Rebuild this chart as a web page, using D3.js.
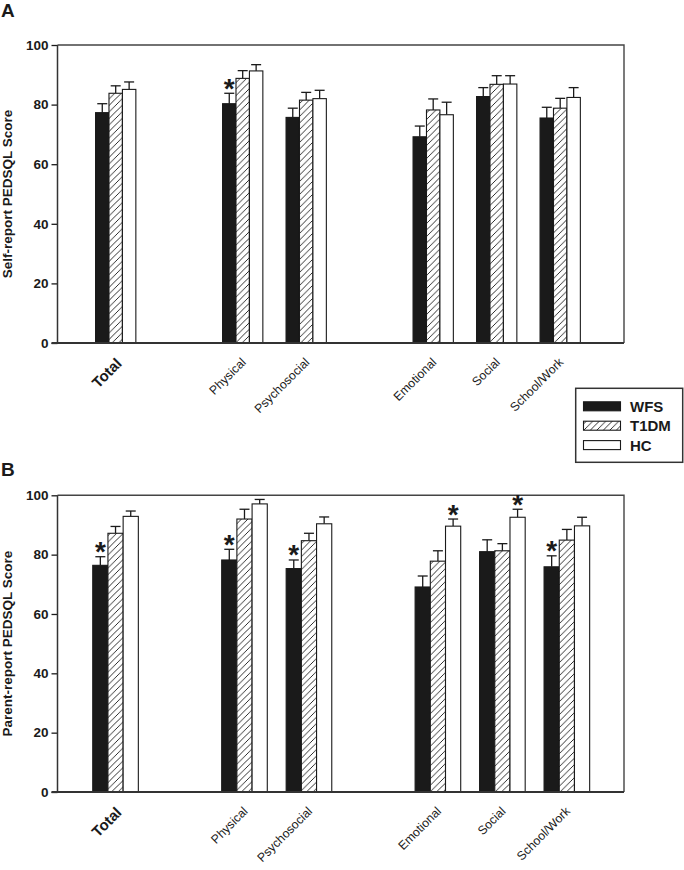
<!DOCTYPE html>
<html>
<head>
<meta charset="utf-8">
<script src="https://cdn.jsdelivr.net/npm/d3@7"></script>
<style>
  html, body { margin: 0; padding: 0; background: #fff; }
  svg { display: block; }
</style>
</head>
<body>
<svg id="chart" width="684" height="870"></svg>
<script>
// ---------------- DATA ----------------
const categories = ["Total", "Physical", "Psychosocial", "Emotional", "Social", "School/Work"];
const categoryGroups = [["Total"], ["Physical", "Psychosocial"], ["Emotional", "Social", "School/Work"]];
const seriesNames = ["WFS", "T1DM", "HC"];
const yTicks = [0, 20, 40, 60, 80, 100];

// Panel A: self-report
const selfWFS = [77.3, 80.3, 75.7, 69.2, 82.7, 75.5];
const selfT1DM = [83.8, 88.8, 81.5, 78.2, 86.8, 78.8];
const selfHC = [85.1, 91.3, 82.0, 76.6, 86.9, 82.4];
const selfWFSErr = [3.0, 3.5, 3.1, 3.6, 3.0, 3.6];
const selfT1DMErr = [2.5, 2.6, 2.6, 3.7, 2.9, 3.3];
const selfHCErr = [2.5, 2.1, 2.8, 4.2, 2.8, 3.3];
const selfStars = [["Physical", "WFS"]];

// Panel B: parent-report
const parentWFS = [76.4, 78.2, 75.3, 69.1, 81.0, 75.9];
const parentT1DM = [87.2, 92.0, 84.7, 77.8, 81.3, 84.9];
const parentHC = [92.9, 97.1, 90.4, 89.6, 92.6, 89.7];
const parentWFSErr = [2.9, 3.6, 2.9, 3.7, 4.0, 3.7];
const parentT1DMErr = [2.3, 3.3, 2.5, 3.5, 2.4, 3.6];
const parentHCErr = [1.8, 1.5, 2.3, 2.4, 2.7, 2.9];
const parentStars = [["Total", "WFS"], ["Physical", "WFS"], ["Psychosocial", "WFS"],
                     ["Emotional", "HC"], ["Social", "HC"], ["School/Work", "WFS"]];

// ---------------- DRAWING ----------------
const svg = d3.select("#chart");
const FONT = "'Liberation Sans', Arial, Helvetica, sans-serif";
const INK = "#1a1a1a";

const defs = svg.append("defs");
const pat = defs.append("pattern")
  .attr("id", "hatch").attr("patternUnits", "userSpaceOnUse")
  .attr("width", 6.5).attr("height", 6.5);
pat.append("rect").attr("width", 6.5).attr("height", 6.5).attr("fill", "#fff");
pat.append("path")
  .attr("d", "M-1,1 L1,-1 M0,6.5 L6.5,0 M5.5,7.5 L7.5,5.5")
  .attr("stroke", INK).attr("stroke-width", 0.9);

const fills = { WFS: INK, T1DM: "url(#hatch)", HC: "#fff" };

// slot domain with empty slots between the category groups
const slotDomain = [];
categoryGroups.forEach((g, i) => {
  if (i > 0) slotDomain.push("__gap" + i);
  g.forEach(c => slotDomain.push(c));
});

function drawPanel(opts) {
  const { top, bottom, left, right, xRange, groupHalf, values, errors, stars, title, letter, letterY } = opts;
  const g = svg.append("g");

  const y = d3.scaleLinear().domain([0, 100]).range([bottom, top]);
  const x = d3.scaleBand().domain(slotDomain).range(xRange).padding(0);
  const xs = d3.scaleBand().domain(seriesNames).range([-groupHalf, groupHalf]).padding(0);
  const cx = c => x(c) + x.bandwidth() / 2;

  const rows = [];
  categories.forEach((c, i) => {
    seriesNames.forEach(s => {
      rows.push({ cat: c, series: s, v: values[s][i], e: errors[s][i] });
    });
  });

  // frame (top and right)
  g.append("path")
    .attr("d", `M${left},${top} H${right} V${bottom}`)
    .attr("fill", "none").attr("stroke", "#444").attr("stroke-width", 1.4);

  // error bars (upper only)
  const eg = g.append("g");
  rows.forEach(r => {
    const bx = cx(r.cat) + xs(r.series) + xs.bandwidth() / 2;
    eg.append("line").attr("x1", bx).attr("x2", bx)
      .attr("y1", y(r.v)).attr("y2", y(r.v + r.e))
      .attr("stroke", INK).attr("stroke-width", 1.3);
    eg.append("line").attr("x1", bx - 5).attr("x2", bx + 5)
      .attr("y1", y(r.v + r.e)).attr("y2", y(r.v + r.e))
      .attr("stroke", INK).attr("stroke-width", 1.3);
  });

  // bars
  g.append("g").selectAll("rect").data(rows).join("rect")
    .attr("x", d => cx(d.cat) + xs(d.series))
    .attr("width", xs.bandwidth())
    .attr("y", d => y(d.v))
    .attr("height", d => y(0) - y(d.v))
    .attr("fill", d => fills[d.series])
    .attr("stroke", INK).attr("stroke-width", 1.1);

  // significance stars
  g.append("g").selectAll("text").data(stars).join("text")
    .attr("x", d => cx(d[0]) + xs(d[1]) + xs.bandwidth() / 2)
    .attr("y", d => {
      const i = categories.indexOf(d[0]);
      const t = values[d[1]][i] + errors[d[1]][i];
      return y(t) - 11.5 + 16;
    })
    .attr("text-anchor", "middle")
    .attr("font-family", FONT).attr("font-weight", "bold").attr("font-size", 28)
    .attr("fill", INK)
    .text("*");

  // y axis
  const ya = g.append("g").attr("transform", `translate(${left},0)`)
    .call(d3.axisLeft(y).tickValues(yTicks).tickSize(6).tickPadding(3).tickFormat(d3.format("d")));
  ya.select(".domain").remove();
  ya.selectAll(".tick line").attr("stroke", INK).attr("stroke-width", 1.3);
  ya.selectAll(".tick text")
    .attr("font-family", FONT).attr("font-weight", "bold").attr("font-size", 13.5)
    .attr("fill", INK);

  g.append("line").attr("x1", left).attr("x2", left).attr("y1", top).attr("y2", bottom)
    .attr("stroke", "#333").attr("stroke-width", 1.5);
  g.append("line").attr("x1", left - 6).attr("x2", right).attr("y1", bottom).attr("y2", bottom)
    .attr("stroke", "#333").attr("stroke-width", 2);

  // category labels
  g.append("g").selectAll("text").data(categories).join("text")
    .attr("transform", d => {
      const isTotal = d === "Total";
      const dx = isTotal ? 7 : 4;
      const dy = isTotal ? 21.5 : 20;
      return `translate(${cx(d) + dx},${bottom + dy}) rotate(-45)`;
    })
    .attr("text-anchor", "end")
    .attr("font-family", FONT)
    .attr("font-weight", d => d === "Total" ? "bold" : "normal")
    .attr("font-size", d => d === "Total" ? 15 : 12.3)
    .attr("fill", INK)
    .text(d => d);

  // y title
  g.append("text")
    .attr("transform", `translate(12,${(top + bottom) / 2}) rotate(-90)`)
    .attr("text-anchor", "middle")
    .attr("font-family", FONT).attr("font-weight", "bold").attr("font-size", 13.5)
    .attr("fill", INK)
    .text(title);

  // panel letter
  g.append("text").attr("x", 1).attr("y", letterY)
    .attr("font-family", FONT).attr("font-weight", "bold").attr("font-size", 19)
    .attr("fill", INK).text(letter);
}

drawPanel({
  top: 45, bottom: 343, left: 57.5, right: 624,
  xRange: [83.95, 591.95], groupHalf: 20.15,
  values: { WFS: selfWFS, T1DM: selfT1DM, HC: selfHC },
  errors: { WFS: selfWFSErr, T1DM: selfT1DMErr, HC: selfHCErr },
  stars: selfStars, title: "Self-report PEDSQL Score", letter: "A", letterY: 17
});

drawPanel({
  top: 495.3, bottom: 792, left: 57.5, right: 624,
  xRange: [83.3, 599.1], groupHalf: 22.8,
  values: { WFS: parentWFS, T1DM: parentT1DM, HC: parentHC },
  errors: { WFS: parentWFSErr, T1DM: parentT1DMErr, HC: parentHCErr },
  stars: parentStars, title: "Parent-report PEDSQL Score", letter: "B", letterY: 475.5
});

// legend
const lg = svg.append("g");
lg.append("rect").attr("x", 575.7).attr("y", 388.3).attr("width", 107).attr("height", 74)
  .attr("fill", "#fff").attr("stroke", "#333").attr("stroke-width", 1.5);
seriesNames.forEach((s, i) => {
  const cy = 406.3 + i * 19.4;
  lg.append("rect").attr("x", 583.5).attr("y", cy - 4.5).attr("width", 37).attr("height", 9)
    .attr("fill", fills[s]).attr("stroke", INK).attr("stroke-width", 1.1);
  lg.append("text").attr("x", 630).attr("y", cy + 5.4)
    .attr("font-family", FONT).attr("font-weight", "bold").attr("font-size", 15)
    .attr("fill", INK).text(s);
});
</script>
</body>
</html>
